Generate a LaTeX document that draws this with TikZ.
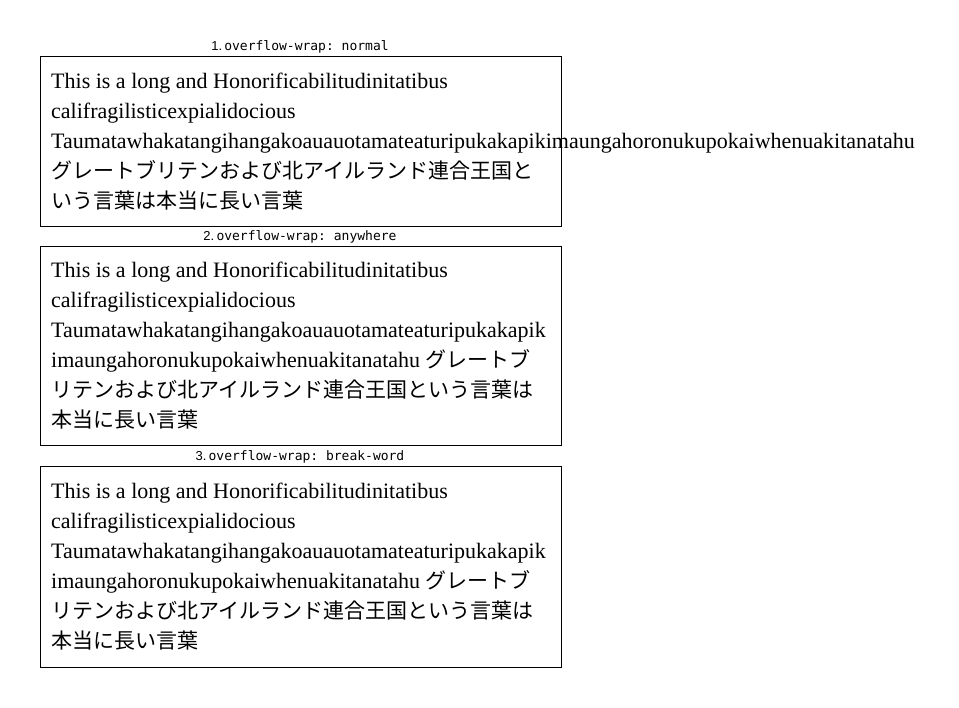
\documentclass[tikz,border=0pt]{standalone}
\usepackage{fontspec}
\setmainfont{Liberation Serif}
\setsansfont{Liberation Sans}
\setmonofont{DejaVu Sans Mono}
\newfontfamily\cjk{Noto Sans CJK JP}
\begin{document}
\begin{tikzpicture}[x=1pt,y=-1pt,
  box/.style={draw=black,line width=1pt},
  txt/.style={anchor=base west,inner sep=0pt,font=\fontsize{22}{22}\selectfont},
  lbl/.style={anchor=base,inner sep=0pt,font=\fontsize{13}{13}\selectfont}]
\useasboundingbox (0,0) rectangle (959,708);
% box 1
\node[lbl] (l1) at (300,51) {\sffamily 1.\,\ttfamily overflow-wrap: normal};
\draw[box] (40,57) rectangle (561,227);
\node[txt] (a1) at (51,89) {This is a long and Honorificabilitudinitatibus};
\node[txt] (a2) at (51,119) {califragilisticexpialidocious};
\node[txt] (a3) at (51,149) {Taumatawhakatangihangakoauauotamateaturipukakapikimaungahoronukupokaiwhenuakitanatahu};
\node[txt] (a4) at (51,179) {\cjk\fontsize{21}{21}\selectfont グレートブリテンおよび北アイルランド連合王国と};
\node[txt] (a5) at (51,209) {\cjk\fontsize{21}{21}\selectfont いう言葉は本当に長い言葉};
% box 2
\node[lbl] (l2) at (300,241) {\sffamily 2.\,\ttfamily overflow-wrap: anywhere};
\draw[box] (40,247) rectangle (561,446);
\node[txt] (b1) at (51,278) {This is a long and Honorificabilitudinitatibus};
\node[txt] (b2) at (51,308) {califragilisticexpialidocious};
\node[txt] (b3) at (51,338) {Taumatawhakatangihangakoauauotamateaturipukakapik};
\node[txt] (b4) at (51,368) {imaungahoronukupokaiwhenuakitanatahu {\cjk\fontsize{21}{21}\selectfont グレートブ}};
\node[txt] (b5) at (51,398) {\cjk\fontsize{21}{21}\selectfont リテンおよび北アイルランド連合王国という言葉は};
\node[txt] (b6) at (51,428) {\cjk\fontsize{21}{21}\selectfont 本当に長い言葉};
% box 3
\node[lbl] (l3) at (300,461) {\sffamily 3.\,\ttfamily overflow-wrap: break-word};
\draw[box] (40,467) rectangle (561,667);
\node[txt] (c1) at (51,498) {This is a long and Honorificabilitudinitatibus};
\node[txt] (c2) at (51,528) {califragilisticexpialidocious};
\node[txt] (c3) at (51,558) {Taumatawhakatangihangakoauauotamateaturipukakapik};
\node[txt] (c4) at (51,588) {imaungahoronukupokaiwhenuakitanatahu {\cjk\fontsize{21}{21}\selectfont グレートブ}};
\node[txt] (c5) at (51,618) {\cjk\fontsize{21}{21}\selectfont リテンおよび北アイルランド連合王国という言葉は};
\node[txt] (c6) at (51,648) {\cjk\fontsize{21}{21}\selectfont 本当に長い言葉};
\end{tikzpicture}
\end{document}
